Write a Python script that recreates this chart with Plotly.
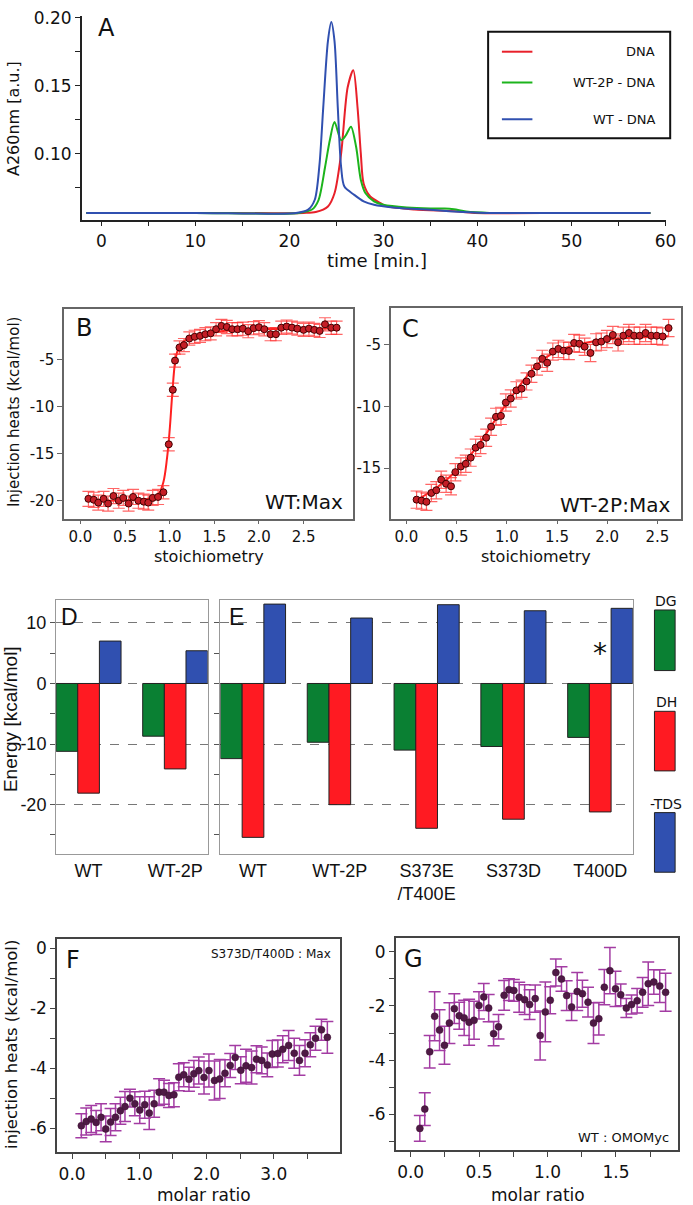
import plotly.graph_objects as go

W, H = 693, 1205
def fx(p): return p / W
def fy(p): return 1 - p / H

DV = "DejaVu Sans"
AR = "Liberation Sans"

# ---------------- Panel A : chromatograms ----------------
time_dna = [-1.6, 10, 21.5, 22.8, 24.1, 24.8, 25.5, 26.2, 26.8, 27.25, 27.6, 27.9, 28.6, 29.7, 30.4, 33.3, 37.6, 39.7, 50, 58.4]
a260_dna = [0.0565, 0.0565, 0.0565, 0.0572, 0.0613, 0.071, 0.100, 0.149, 0.1616, 0.134, 0.100, 0.078, 0.0686, 0.0637, 0.0613, 0.059, 0.0577, 0.0565, 0.0565, 0.0565]

time_wt2p = [-1.6, 10, 21.0, 22.4, 23.1, 23.8, 24.3, 24.8, 25.5, 26.0, 26.55, 27.1, 27.6, 28.1, 29.0, 30.0, 32.5, 35.0, 36.5, 37.5, 38.8, 41.3, 50, 58.4]
a260_wt2p = [0.0565, 0.0565, 0.0565, 0.059, 0.066, 0.0905, 0.110, 0.1234, 0.110, 0.1136, 0.120, 0.105, 0.0808, 0.071, 0.065, 0.0625, 0.0605, 0.0598, 0.0598, 0.0592, 0.0575, 0.0565, 0.0565, 0.0565]

time_wt = [-1.6, 10, 20.7, 22.0, 22.7, 23.2, 23.6, 24.1, 24.46, 24.8, 25.15, 25.5, 25.85, 26.9, 27.9, 29.0, 31.0, 33.0, 35.0, 37.0, 39.0, 41.0, 50, 58.4]
a260_wt = [0.0565, 0.0565, 0.0565, 0.0589, 0.0662, 0.092, 0.134, 0.183, 0.197, 0.183, 0.134, 0.0905, 0.0759, 0.0698, 0.065, 0.0625, 0.0605, 0.0595, 0.0588, 0.0578, 0.057, 0.0565, 0.0565, 0.0565]

legend_A = ["DNA", "WT-2P - DNA", "WT - DNA"]
colors_A = ["#e8202a", "#1cb41c", "#3050b0"]

# ---------------- Panel B : WT:Max ITC ----------------
stoich_B = [0.09, 0.15, 0.20, 0.26, 0.31, 0.37, 0.43, 0.48, 0.54, 0.59, 0.65, 0.71, 0.76, 0.81, 0.87, 0.93,
            0.99, 1.035, 1.06, 1.11, 1.16, 1.22, 1.28, 1.34, 1.40, 1.46, 1.52, 1.58, 1.64, 1.70, 1.76, 1.82,
            1.88, 1.94, 2.00, 2.06, 2.13, 2.19, 2.25, 2.31, 2.37, 2.43, 2.50, 2.56, 2.62, 2.68, 2.74, 2.81, 2.87]
heat_B = [-19.8, -19.9, -20.2, -19.8, -20.3, -19.5, -20.0, -19.7, -20.3, -19.6, -20.0, -20.1, -20.2, -19.7, -19.6, -19.1,
          -14.0, -8.2, -5.1, -3.7, -3.45, -2.75, -2.57, -2.47, -2.29, -2.2, -1.76, -1.41, -1.52, -1.76, -1.76, -1.7,
          -1.97, -1.65, -1.55, -1.76, -2.29, -2.29, -1.6, -1.48, -1.59, -1.7, -1.83, -1.7, -1.83, -1.94, -1.24, -1.6, -1.6]
err_B = [0.8, 0.8, 0.8, 0.8, 0.8, 0.8, 0.8, 0.8, 0.8, 0.8, 0.8, 0.8, 0.8, 0.8, 0.8, 0.7,
         0.7, 0.7, 0.7, 0.7, 0.7, 0.7, 0.7, 0.7, 0.7, 0.7, 0.7, 0.7, 0.7, 0.7, 0.7, 0.7,
         0.7, 0.7, 0.7, 0.7, 0.7, 0.7, 0.7, 0.7, 0.7, 0.7, 0.7, 0.7, 0.7, 0.7, 0.7, 0.7, 0.7]
fit_x_B = [0.09, 0.5, 0.8, 0.88, 0.93, 0.97, 1.00, 1.03, 1.06, 1.09, 1.13, 1.2, 1.3, 1.45, 1.6, 1.8, 2.1, 2.5, 2.87]
fit_y_B = [-20.0, -19.95, -19.7, -19.2, -18.0, -15.5, -12.5, -8.5, -5.3, -4.0, -3.3, -2.8, -2.45, -2.15, -1.95, -1.85, -1.75, -1.7, -1.68]

# ---------------- Panel C : WT-2P:Max ITC ----------------
stoich_C = [0.101, 0.15, 0.199, 0.248, 0.297, 0.346, 0.395, 0.444, 0.487, 0.542, 0.591, 0.64, 0.689, 0.738, 0.794,
            0.843, 0.892, 0.941, 0.99, 1.039, 1.095, 1.147, 1.196, 1.245, 1.301, 1.353, 1.402, 1.458, 1.513, 1.566,
            1.618, 1.67, 1.722, 1.775, 1.833, 1.889, 1.941, 1.997, 2.056, 2.108, 2.16, 2.216, 2.268, 2.324, 2.382,
            2.438, 2.493, 2.552, 2.611]
heat_C = [-17.56, -17.64, -17.74, -17.02, -16.8, -15.94, -16.27, -16.48, -15.33, -14.87, -14.65, -14.15, -13.34, -13.12, -12.53,
          -11.64, -10.84, -10.76, -9.68, -9.35, -8.69, -8.55, -7.96, -7.34, -6.75, -6.13, -6.45, -5.54, -5.32, -5.46,
          -5.49, -4.84, -4.9, -5.14, -5.65, -4.79, -4.73, -4.52, -4.19, -4.79, -4.25, -4.03, -4.25, -4.25, -4.03,
          -4.25, -4.25, -4.31, -3.63]
err_C = [0.7] * 49
fit_x_C = [0.10, 0.3, 0.5, 0.7, 0.9, 1.1, 1.3, 1.45, 1.6, 1.8, 2.0, 2.3, 2.61]
fit_y_C = [-17.6, -16.6, -15.2, -13.3, -10.9, -8.6, -6.6, -5.7, -5.2, -4.8, -4.55, -4.4, -4.3]

# ---------------- Panels D / E : energetics ----------------
cat_D = ["WT", "WT-2P"]
dG_D = [-11.2, -8.7]
dH_D = [-18.1, -14.1]
mTdS_D = [7.0, 5.4]

cat_E = ["WT", "WT-2P", "S373E<br>/T400E", "S373D", "T400D"]
dG_E = [-12.4, -9.7, -11.0, -10.4, -8.9]
dH_E = [-25.4, -20.0, -23.9, -22.4, -21.2]
mTdS_E = [13.1, 10.8, 13.0, 12.0, 12.4]

energy_names = ["DG", "DH", "-TDS"]
energy_colors = ["#0a8033", "#ff1a22", "#3050b0"]

# ---------------- Panel F : S373D/T400D:Max ----------------
ratio_F = [0.137, 0.21, 0.284, 0.357, 0.43, 0.5, 0.572, 0.645, 0.718, 0.786, 0.86, 0.933, 1.006, 1.08, 1.147, 1.22,
           1.294, 1.367, 1.44, 1.514, 1.587, 1.66, 1.738, 1.811, 1.884, 1.962, 2.035, 2.118, 2.196, 2.274, 2.352,
           2.426, 2.509, 2.587, 2.67, 2.743, 2.821, 2.904, 2.977, 3.06, 3.133, 3.221, 3.304, 3.382, 3.465, 3.543,
           3.621, 3.709, 3.797]
heat_F = [-5.92, -5.78, -5.70, -5.81, -5.64, -6.03, -5.80, -5.64, -5.42, -5.28, -5.0, -5.19, -5.40, -5.22, -5.50, -5.19,
          -4.8, -4.8, -4.91, -4.89, -4.30, -4.22, -4.37, -4.19, -4.08, -4.31, -4.08, -4.41, -4.36, -4.17, -3.91,
          -3.64, -4.07, -3.92, -3.98, -3.70, -3.74, -3.89, -3.53, -3.51, -3.37, -3.24, -3.50, -3.74, -3.50, -3.22,
          -3.0, -2.72, -2.97]
err_F = [0.4, 0.45, 0.45, 0.4, 0.45, 0.43, 0.45, 0.45, 0.45, 0.5, 0.3, 0.4, 0.45, 0.45, 0.55, 0.45,
         0.45, 0.4, 0.4, 0.4, 0.45, 0.4, 0.4, 0.45, 0.45, 0.55, 0.55, 0.65, 0.65, 0.45, 0.4,
         0.4, 0.45, 0.55, 0.55, 0.45, 0.45, 0.4, 0.45, 0.45, 0.45, 0.5, 0.5, 0.5, 0.45, 0.4,
         0.4, 0.35, 0.53]

# ---------------- Panel G : WT:OMOMyc ----------------
ratio_G = [0.067, 0.103, 0.139, 0.175, 0.211, 0.247, 0.283, 0.319, 0.355, 0.391, 0.427, 0.463, 0.499, 0.534, 0.570,
           0.606, 0.642, 0.683, 0.718, 0.754, 0.793, 0.833, 0.869, 0.910, 0.946, 0.984, 1.020, 1.061, 1.102, 1.140,
           1.176, 1.217, 1.255, 1.296, 1.336, 1.375, 1.415, 1.456, 1.497, 1.535, 1.576, 1.614, 1.655, 1.695, 1.736,
           1.777, 1.820, 1.863]
heat_G = [-6.51, -5.80, -3.69, -2.38, -2.89, -3.45, -2.63, -2.10, -2.36, -2.44, -2.60, -2.53, -1.98, -1.67, -2.08,
          -3.02, -2.77, -1.61, -1.40, -1.43, -1.68, -1.77, -1.95, -1.73, -3.09, -2.22, -1.79, -0.77, -1.01, -1.62,
          -2.04, -1.47, -1.55, -1.86, -2.63, -2.47, -1.31, -0.70, -1.37, -1.59, -2.08, -1.95, -1.81, -1.50, -1.18,
          -1.12, -1.27, -1.50]
err_G = [0.47, 0.6, 0.6, 0.9, 0.75, 0.7, 0.75, 0.55, 0.5, 0.65, 0.85, 0.7, 0.5, 0.5, 0.5,
         0.45, 0.45, 0.55, 0.4, 0.4, 0.55, 0.55, 0.55, 0.5, 0.9, 1.1, 0.5, 0.5, 0.45, 0.55,
         0.5, 0.7, 0.5, 0.55, 0.75, 0.6, 0.65, 0.85, 0.65, 0.4, 0.35, 0.35, 0.45, 0.55, 0.8,
         0.45, 0.6, 0.7]

# =====================================================================
fig = go.Figure()

# A
for tx, ty, name, col in [(time_dna, a260_dna, legend_A[0], colors_A[0]),
                          (time_wt2p, a260_wt2p, legend_A[1], colors_A[1]),
                          (time_wt, a260_wt, legend_A[2], colors_A[2])]:
    fig.add_trace(go.Scatter(x=tx, y=ty, mode="lines", name=name, xaxis="x", yaxis="y",
                             line=dict(color=col, width=2, shape="spline", smoothing=0.8),
                             showlegend=False, hoverinfo="skip"))

# B
fig.add_trace(go.Scatter(x=fit_x_B, y=fit_y_B, mode="lines", xaxis="x2", yaxis="y2",
                         line=dict(color="#ff2020", width=2, shape="spline"), showlegend=False))
fig.add_trace(go.Scatter(x=stoich_B, y=heat_B, mode="markers", xaxis="x2", yaxis="y2",
                         error_y=dict(type="data", array=err_B, color="rgba(255,50,50,0.75)", thickness=1.2, width=6),
                         marker=dict(size=7, color="#c41e26", line=dict(color="#400000", width=1)),
                         showlegend=False))
# C
fig.add_trace(go.Scatter(x=fit_x_C, y=fit_y_C, mode="lines", xaxis="x3", yaxis="y3",
                         line=dict(color="#ff2020", width=2, shape="spline"), showlegend=False))
fig.add_trace(go.Scatter(x=stoich_C, y=heat_C, mode="markers", xaxis="x3", yaxis="y3",
                         error_y=dict(type="data", array=err_C, color="rgba(255,50,50,0.75)", thickness=1.2, width=6),
                         marker=dict(size=7, color="#c41e26", line=dict(color="#400000", width=1)),
                         showlegend=False))

# D / E bars
for vals, nm, col in zip([dG_D, dH_D, mTdS_D], energy_names, energy_colors):
    fig.add_trace(go.Bar(x=cat_D, y=vals, name=nm, xaxis="x4", yaxis="y4",
                         marker=dict(color=col, line=dict(color="#222", width=1)), showlegend=False))
for vals, nm, col in zip([dG_E, dH_E, mTdS_E], energy_names, energy_colors):
    fig.add_trace(go.Bar(x=cat_E, y=vals, name=nm, xaxis="x5", yaxis="y5",
                         marker=dict(color=col, line=dict(color="#222", width=1)), showlegend=False))

# F
fig.add_trace(go.Scatter(x=ratio_F, y=heat_F, mode="markers", xaxis="x6", yaxis="y6",
                         error_y=dict(type="data", array=err_F, color="#a33ca3", thickness=1.5, width=6),
                         marker=dict(size=7, color="#4e1a45", line=dict(color="#3a1030", width=0.5)),
                         showlegend=False))
# G
fig.add_trace(go.Scatter(x=ratio_G, y=heat_G, mode="markers", xaxis="x7", yaxis="y7",
                         error_y=dict(type="data", array=err_G, color="#a33ca3", thickness=1.5, width=6),
                         marker=dict(size=7, color="#4e1a45", line=dict(color="#3a1030", width=0.5)),
                         showlegend=False))

def ax(domain, rng, **kw):
    d = dict(domain=domain, range=rng, showgrid=False, zeroline=False, showline=True,
             ticks="outside", ticklen=5, fixedrange=True)
    d.update(kw)
    return d

box_B = dict(mirror=True, linecolor="#666", linewidth=1.5, tickcolor="#666",
             tickfont=dict(family=DV, size=15, color="#111"))
box_DE = dict(mirror=True, linecolor="#999", linewidth=1.2, tickcolor="#555",
              tickfont=dict(family=AR, size=18, color="#111"))
box_FG = dict(mirror=True, linecolor="#444", linewidth=1.5, tickcolor="#444",
              tickfont=dict(family=DV, size=17, color="#111"))

fig.update_layout(
    width=W, height=H, margin=dict(l=0, r=0, t=0, b=0),
    paper_bgcolor="white", plot_bgcolor="white", barmode="group", bargap=0.25, bargroupgap=0,
    xaxis=ax([fx(83), fx(676.5)], [-2.09, 60.03], anchor="y", linecolor="#222", linewidth=1.5,
             tickcolor="#222", tickvals=[0, 10, 20, 30, 40, 50, 60],
             minor=dict(tickvals=[5, 15, 25, 35, 45, 55], ticks="outside", ticklen=5, tickcolor="#222"),
             tickfont=dict(family=DV, size=17, color="#111")),
    yaxis=ax([fy(213), fy(8)], [0.0516, 0.2015], anchor="x", linecolor="#222", linewidth=1.5,
             tickcolor="#222", tickvals=[0.10, 0.15, 0.20], ticktext=["0.10", "0.15", "0.20"],
             minor=dict(tickvals=[0.075, 0.125, 0.175], ticks="outside", ticklen=5, tickcolor="#222"),
             tickfont=dict(family=DV, size=17, color="#111")),
    xaxis2=ax([fx(65), fx(359)], [-0.184, 3.057], anchor="y2", tickvals=[0, 0.5, 1, 1.5, 2, 2.5],
              ticktext=["0.0", "0.5", "1.0", "1.5", "2.0", "2.5"], ticklen=4, **box_B),
    yaxis2=ax([fy(514), fy(303)], [-21.9, 0.39], anchor="x2", tickvals=[-20, -15, -10, -5],
              ticktext=["-20", "-15", "-10", "-5"], **box_B),
    xaxis3=ax([fx(397), fx(692)], [-0.157, 2.735], anchor="y3", tickvals=[0, 0.5, 1, 1.5, 2, 2.5],
              ticktext=["0.0", "0.5", "1.0", "1.5", "2.0", "2.5"], ticklen=4, **box_B),
    yaxis3=ax([fy(514), fy(302)], [-19.1, -2.0], anchor="x3", tickvals=[-15, -10, -5],
              ticktext=["-15", "-10", "-5"], **box_B),
    xaxis4=ax([fx(57), fx(211)], [-0.375, 1.375], anchor="y4", type="category", categoryorder="array",
              categoryarray=cat_D, ticks="", **box_DE),
    yaxis4=ax([fy(852), fy(596)], [-28.2, 13.77], anchor="x4", tickvals=[-20, -10, 0, 10],
              ticktext=["-20", "-10", "0", "10"], showgrid=True, gridcolor="#777", griddash="dash", gridwidth=1,
              minor=dict(tickvals=[-25, -15, -5, 5], ticks="outside", ticklen=5, tickcolor="#555"), **box_DE),
    xaxis5=ax([fx(224), fx(643)], [-0.375, 4.375], anchor="y5", type="category", categoryorder="array",
              categoryarray=cat_E, ticks="", **box_DE),
    yaxis5=ax([fy(852), fy(596)], [-28.2, 13.77], anchor="x5", tickvals=[-20, -10, 0, 10],
              showticklabels=False, showgrid=True, gridcolor="#777", griddash="dash", gridwidth=1,
              minor=dict(tickvals=[-25, -15, -5, 5], ticks="outside", ticklen=5, tickcolor="#555"), **box_DE),
    xaxis6=ax([fx(58), fx(345)], [-0.224, 3.978], anchor="y6", tickvals=[0, 1, 2, 3],
              ticktext=["0.0", "1.0", "2.0", "3.0"],
              minor=dict(tickvals=[0.5, 1.5, 2.5, 3.5], ticks="outside", ticklen=5, tickcolor="#444"), **box_FG),
    yaxis6=ax([fy(1152), fy(937)], [-6.81, 0.32], anchor="x6", tickvals=[-6, -4, -2, 0],
              ticktext=["-6", "-4", "-2", "0"],
              minor=dict(tickvals=[-5, -3, -1], ticks="outside", ticklen=5, tickcolor="#444"), **box_FG),
    xaxis7=ax([fx(402), fx(689)], [-0.11, 1.954], anchor="y7", tickvals=[0, 0.5, 1, 1.5],
              ticktext=["0.0", "0.5", "1.0", "1.5"],
              minor=dict(tickvals=[0.25, 0.75, 1.25, 1.75], ticks="outside", ticklen=5, tickcolor="#444"), **box_FG),
    yaxis7=ax([fy(1150), fy(936)], [-7.32, 0.51], anchor="x7", tickvals=[-6, -4, -2, 0],
              ticktext=["-6", "-4", "-2", "0"],
              minor=dict(tickvals=[-7, -5, -3, -1], ticks="outside", ticklen=5, tickcolor="#444"), **box_FG),
)

ann = []
def txt(x, y, s, size, family=DV, xanchor="center", yanchor="middle", angle=0, color="#111", xref="paper", yref="paper"):
    ann.append(dict(x=x, y=y, xref=xref, yref=yref, text=s, showarrow=False, xanchor=xanchor, yanchor=yanchor,
                    textangle=angle, font=dict(family=family, size=size, color=color)))

# panel letters
txt(fx(108), fy(20), "A", 24)
txt(fx(85), fy(322), "B", 24)
txt(fx(417), fy(323), "C", 24)
txt(fx(71), fy(613), "D", 23, family=AR)
txt(fx(240), fy(613), "E", 23, family=AR)
txt(fx(74), fy(958), "F", 24)
txt(fx(420), fy(957), "G", 24)

# axis titles
txt(fx(13), fy(111), "A260nm [a.u.]", 16, angle=-90)
txt(fx(383), fy(254), "time [min.]", 18)
txt(fx(15), fy(407), "Injection heats (kcal/mol)", 15, angle=-90)
txt(fx(212), fy(552), "stoichiometry", 16)
txt(fx(545), fy(552), "stoichiometry", 16)
txt(fx(10), fy(716), "Energy [kcal/mol]", 19, family=AR, angle=-90)
txt(fx(11), fy(1043), "injection heats (kcal/mol)", 16.5, angle=-90)
txt(fx(207), fy(1195), "molar ratio", 17)
txt(fx(547), fy(1195), "molar ratio", 17)

# inset labels
txt(fx(351), fy(497), "WT:Max", 20, xanchor="right")
txt(fx(683), fy(500), "WT-2P:Max", 20, xanchor="right")
txt(fx(338), fy(952), "S373D/T400D : Max", 12, xanchor="right")
txt(fx(682), fy(1137), "WT : OMOMyc", 13, xanchor="right")
txt("T400D", 5.0, "*", 28, xref="x5", yref="y5")

# legend A
shapes = [dict(type="rect", xref="paper", yref="paper", x0=fx(496), x1=fx(681), y0=fy(131), y1=fy(24),
               line=dict(color="#111", width=2), fillcolor="white", layer="above")]
for name, col, yy in zip(legend_A, colors_A, [44, 75, 112]):
    shapes.append(dict(type="line", xref="paper", yref="paper", x0=fx(510), x1=fx(541), y0=fy(yy), y1=fy(yy),
                       line=dict(color=col, width=2), layer="above"))
    txt(fx(668), fy(yy), name, 13, xanchor="right")

# legend D/E
for name, col, (ytxt, y0, y1) in zip(energy_names, energy_colors,
                                     [(597, 606, 667), (699, 708, 768), (801, 810, 870)]):
    shapes.append(dict(type="rect", xref="paper", yref="paper", x0=fx(665), x1=fx(686), y0=fy(y1), y1=fy(y0),
                       line=dict(color="#222", width=1), fillcolor=col))
    txt(fx(677), fy(ytxt), name, 14, family=DV)

fig.update_layout(annotations=ann, shapes=shapes)

fig.write_html("out.html", config={"displayModeBar": False},
               post_script="document.body.style.margin='0';")
